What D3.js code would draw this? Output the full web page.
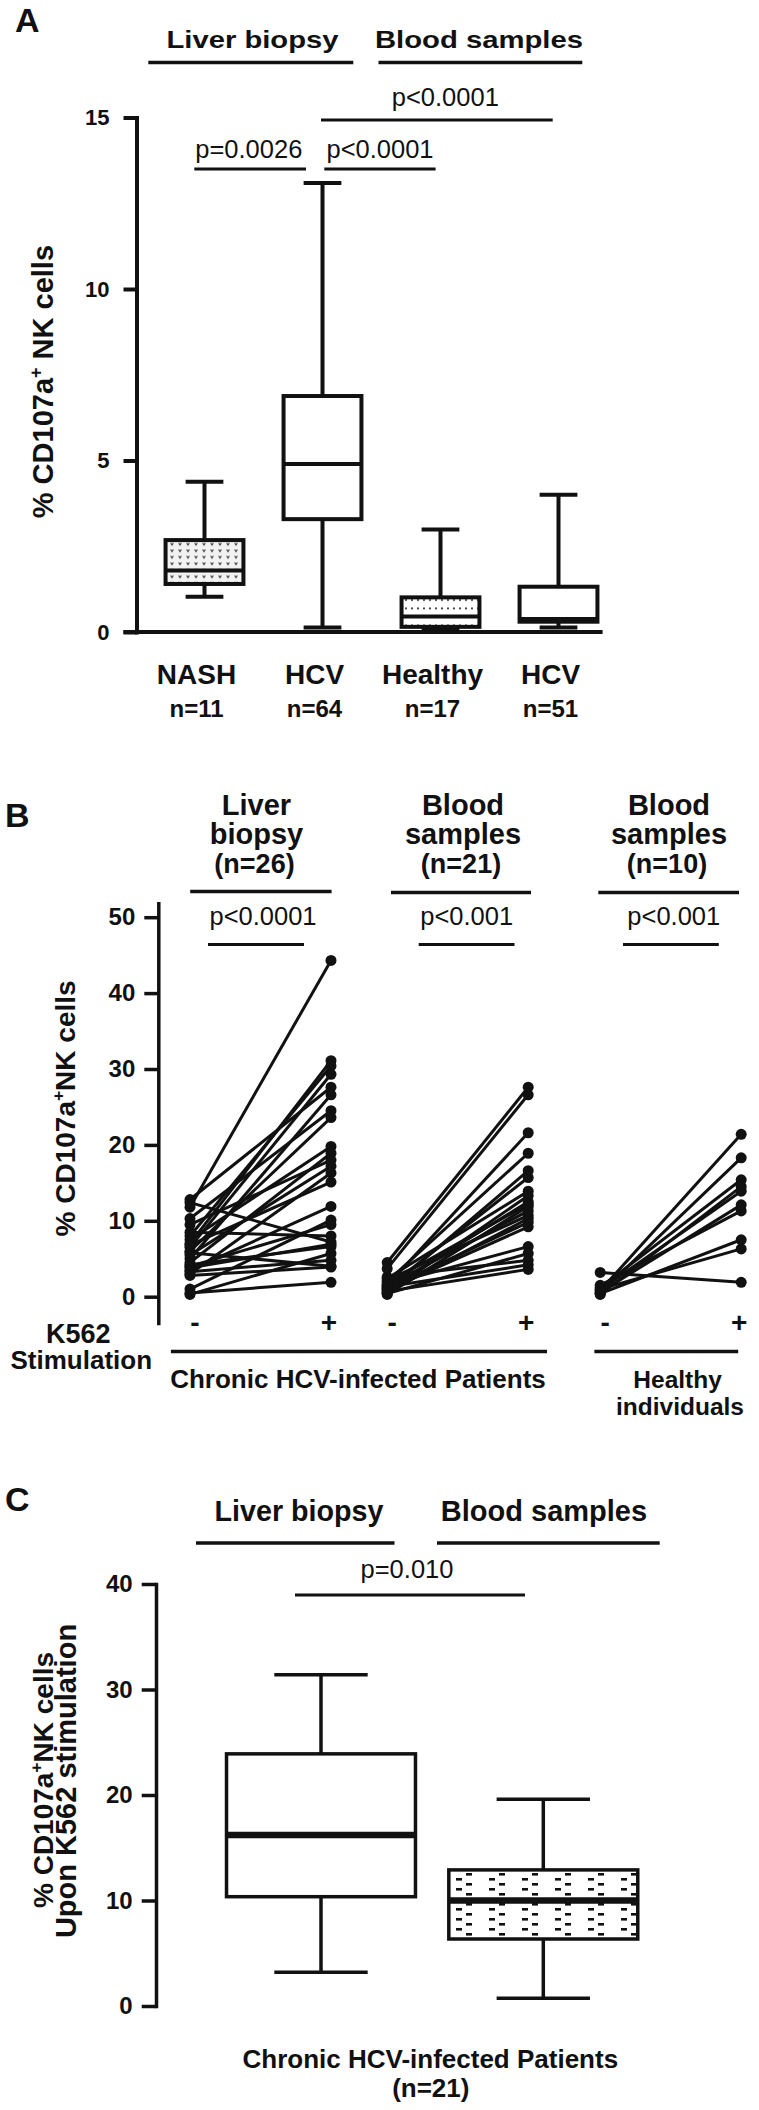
<!DOCTYPE html>
<html><head><meta charset="utf-8">
<script src="https://cdn.jsdelivr.net/npm/d3@7"></script>
<style>
body{margin:0;background:#fff}
svg{display:block}
text{font-family:"Liberation Sans",Arial,Helvetica,sans-serif;fill:#111}
</style>
</head><body><script>
// ================= DATA =================
// Panel A : box plots (% CD107a+ NK cells)
const catsA = ["NASH", "HCV", "Healthy", "HCV"];
const nLabelsA = ["n=11", "n=64", "n=17", "n=51"];
const minA = [1.03, 0.13, 0.10, 0.13];
const q1A  = [1.40, 3.29, 0.15, 0.30];
const medA = [1.79, 4.90, 0.45, 0.38];
const q3A  = [2.68, 6.88, 1.01, 1.32];
const maxA = [4.38, 13.09, 2.99, 4.00];
const ticksA = [0, 5, 10, 15];

// Panel B : paired values, before (-) and after (+) K562 stimulation
const groupsB = ["liver", "blood", "healthy"];
const liverBefore = [11.8, 7.0, 8.0, 6.5, 12.8, 5.0, 10.3, 6.0, 7.5, 4.5, 9.5, 5.5, 3.0, 6.8, 3.5, 1.0, 4.0, 12.4, 8.5, 4.2, 3.8, 0.3, 3.3, 2.8, 5.8, 0.5];
const liverAfter  = [44.3, 31.1, 30.4, 29.3, 27.6, 26.6, 24.5, 23.6, 19.8, 18.9, 18.0, 17.2, 16.3, 15.1, 11.9, 10.1, 9.5, 7.2, 8.0, 6.6, 6.9, 5.7, 4.8, 3.9, 4.0, 1.9];
const bloodBefore = [4.5, 3.7, 1.5, 2.0, 0.8, 1.2, 2.4, 0.5, 1.0, 1.8, 0.3, 1.4, 2.2, 0.6, 1.1, 0.9, 1.6, 0.4, 2.6, 1.3, 0.7];
const bloodAfter  = [27.6, 26.6, 21.6, 18.9, 16.6, 15.7, 13.9, 13.3, 12.5, 12.2, 11.9, 11.3, 10.7, 10.3, 9.8, 9.2, 6.6, 5.7, 4.8, 4.2, 3.6];
const healthyBefore = [3.2, 0.8, 0.5, 1.2, 0.3, 0.9, 0.6, 1.5, 0.4, 1.0];
const healthyAfter  = [1.9, 21.4, 18.3, 15.4, 14.5, 13.9, 12.1, 11.3, 7.5, 6.3];
const ticksB = [0, 10, 20, 30, 40, 50];
const signLabels = ["-", "+"];

// Panel C : box plots upon K562 stimulation
const catsC = ["Liver biopsy", "Blood samples"];
const minC = [3.2, 0.73];
const q1C  = [10.36, 6.35];
const medC = [16.2, 10.0];
const q3C  = [23.9, 12.9];
const maxC = [31.4, 19.6];
const ticksC = [0, 10, 20, 30, 40];

// ================= SETUP =================
const W = 759, H = 2110;
const svg = d3.select("body").append("svg").attr("width", W).attr("height", H);
svg.append("rect").attr("width", W).attr("height", H).attr("fill", "#fff");
const INK = "#111";

// patterns
const defs = svg.append("defs");
const pH = defs.append("pattern").attr("id", "hearts").attr("patternUnits", "userSpaceOnUse")
  .attr("width", 8).attr("height", 6.5).attr("x", 1).attr("y", 2);
pH.append("rect").attr("width", 8).attr("height", 6.5).attr("fill", "#f2f2f2");
pH.append("path").attr("d", "M1.6,1.4 L3,3.6 L4.4,1.4").attr("fill", "none").attr("stroke", "#444").attr("stroke-width", 1.2);
const pD = defs.append("pattern").attr("id", "dots").attr("patternUnits", "userSpaceOnUse")
  .attr("width", 6).attr("height", 8.5).attr("x", 1).attr("y", 2);
pD.append("rect").attr("width", 6).attr("height", 8.5).attr("fill", "#fff");
pD.append("circle").attr("cx", 3).attr("cy", 3).attr("r", 1.05).attr("fill", "#333");
const pK = defs.append("pattern").attr("id", "dashes").attr("patternUnits", "userSpaceOnUse")
  .attr("width", 33).attr("height", 10).attr("x", 456).attr("y", 1868);
pK.append("rect").attr("width", 33).attr("height", 10).attr("fill", "#fff");
pK.append("rect").attr("x", 0).attr("y", 0).attr("width", 6).attr("height", 2.6).attr("fill", "#111");
pK.append("rect").attr("x", 10).attr("y", 5).attr("width", 6).attr("height", 2.6).attr("fill", "#111");

function txt(x, y, s, size, weight, anchor) {
  return svg.append("text").attr("x", x).attr("y", y).text(s)
    .style("font-size", size + "px").style("font-weight", weight || "bold")
    .attr("text-anchor", anchor || "middle");
}
function hline(x1, x2, y, sw) {
  return svg.append("line").attr("x1", x1).attr("x2", x2).attr("y1", y).attr("y2", y)
    .attr("stroke", INK).attr("stroke-width", sw);
}
function yLabel(x, y, before, after, size) {
  const t = svg.append("text").attr("transform", `translate(${x},${y}) rotate(-90)`)
    .attr("text-anchor", "middle").style("font-size", size + "px").style("font-weight", "bold");
  t.append("tspan").text(before);
  t.append("tspan").attr("dy", -size * 0.38).style("font-size", (size * 0.62) + "px").text("+");
  t.append("tspan").attr("dy", size * 0.38).text(after);
  return t;
}
function styleAxis(g, sw, fs, keepDomain) {
  g.selectAll(".tick line").attr("stroke", INK).attr("stroke-width", sw);
  g.selectAll(".tick text").style("font-size", fs + "px").style("font-weight", "bold").attr("fill", INK)
    .style("font-family", '"Liberation Sans",Arial,sans-serif');
  if (keepDomain) g.select(".domain").attr("stroke", INK).attr("stroke-width", sw).attr("stroke-linecap", "square");
  else g.select(".domain").remove();
}
function drawBoxes(x, y, mins, q1s, meds, q3s, maxs, boxFrac, capFrac, sw, medSw, fills) {
  const g = svg.append("g");
  mins.forEach((_, i) => {
    const cx = x(i) + x.bandwidth() / 2;
    const bw = x.bandwidth() * boxFrac, cw = x.bandwidth() * capFrac;
    g.append("line").attr("x1", cx).attr("x2", cx).attr("y1", y(maxs[i])).attr("y2", y(mins[i]))
      .attr("stroke", INK).attr("stroke-width", sw);
    [mins[i], maxs[i]].forEach(v => g.append("line").attr("x1", cx - cw / 2).attr("x2", cx + cw / 2)
      .attr("y1", y(v)).attr("y2", y(v)).attr("stroke", INK).attr("stroke-width", sw));
    g.append("rect").attr("x", cx - bw / 2).attr("width", bw)
      .attr("y", y(q3s[i])).attr("height", y(q1s[i]) - y(q3s[i]))
      .attr("fill", fills[i]).attr("stroke", INK).attr("stroke-width", sw);
    g.append("line").attr("x1", cx - bw / 2).attr("x2", cx + bw / 2)
      .attr("y1", y(meds[i])).attr("y2", y(meds[i])).attr("stroke", INK).attr("stroke-width", medSw);
  });
}

// ================= PANEL A =================
txt(15, 32, "A", 34, "bold", "start");
const xA = d3.scaleBand().domain(d3.range(catsA.length)).range([145.5, 617.5]);
const yA = d3.scaleLinear().domain([0, 15]).range([632, 117.5]);
const axA = svg.append("g").attr("transform", "translate(136.5,0)")
  .call(d3.axisLeft(yA).tickValues(ticksA).tickSize(13).tickPadding(14).tickSizeOuter(0));
styleAxis(axA, 4, 22, true);
hline(123.4, 602.6, yA(0), 4);
drawBoxes(xA, yA, minA, q1A, medA, q3A, maxA, 0.66, 0.32, 4, 4,
  ["url(#hearts)", "#fff", "url(#dots)", "#fff"]);
catsA.forEach((c, i) => txt(xA(i) + xA.bandwidth() / 2 - 8, 684.3, c, 28));
nLabelsA.forEach((c, i) => txt(xA(i) + xA.bandwidth() / 2 - 8, 716.7, c, 24));
yLabel(53, 381.6, "% CD107a", " NK cells", 29);
// group headers
txt(252.5, 47.7, "Liver biopsy", 24).attr("textLength", 172).attr("lengthAdjust", "spacingAndGlyphs");
hline(148.3, 353.3, 62.5, 3.3);
txt(479, 47.7, "Blood samples", 24).attr("textLength", 208).attr("lengthAdjust", "spacingAndGlyphs");
hline(378.5, 582.3, 62.5, 3.3);
// significance
txt(445.3, 105.8, "p<0.0001", 25.5, "normal");
hline(321, 552.7, 120, 3);
txt(248.8, 158.3, "p=0.0026", 25.5, "normal");
hline(194.3, 306, 169, 3);
txt(380, 158.3, "p<0.0001", 25.5, "normal");
hline(324.3, 435.6, 169, 3);

// ================= PANEL B =================
txt(5, 827, "B", 34, "bold", "start");
const yB = d3.scaleLinear().domain([0, 50]).range([1296.7, 917.2]);
const gxB = d3.scaleOrdinal().domain(groupsB).range([190, 387.2, 600.2]);
const dxB = d3.scaleLinear().domain([0, 1]).range([0, 141]);
const axB = svg.append("g").attr("transform", "translate(158.8,0)")
  .call(d3.axisLeft(yB).tickValues(ticksB).tickSize(14.5).tickPadding(9).tickSizeOuter(0));
styleAxis(axB, 3.5, 24, false);
svg.append("line").attr("x1", 158.8).attr("x2", 158.8).attr("y1", yB(52)).attr("y2", yB(-3.75))
  .attr("stroke", INK).attr("stroke-width", 3.5);
const pairsB = [[liverBefore, liverAfter], [bloodBefore, bloodAfter], [healthyBefore, healthyAfter]];
const gB = svg.append("g");
pairsB.forEach(([bef, aft], gi) => {
  const gx = gxB(groupsB[gi]);
  bef.forEach((b, i) => {
    gB.append("line").attr("x1", gx + dxB(0)).attr("y1", yB(b)).attr("x2", gx + dxB(1)).attr("y2", yB(aft[i]))
      .attr("stroke", INK).attr("stroke-width", 3);
  });
});
pairsB.forEach(([bef, aft], gi) => {
  const gx = gxB(groupsB[gi]);
  bef.forEach((b, i) => {
    gB.append("circle").attr("cx", gx + dxB(0)).attr("cy", yB(b)).attr("r", 5.5).attr("fill", INK);
    gB.append("circle").attr("cx", gx + dxB(1)).attr("cy", yB(aft[i])).attr("r", 5.5).attr("fill", INK);
  });
  signLabels.forEach((s, k) => txt(gx + dxB(k) + (k === 0 ? 5 : -2), 1331.5, s, 28));
});
yLabel(75, 1108.4, "% CD107a", "NK cells", 28);
// headers
[["Liver", "biopsy", "(n=26)", 256.5], ["Blood", "samples", "(n=21)", 463], ["Blood", "samples", "(n=10)", 669]]
  .forEach(([a, b, c, cx]) => {
    txt(cx, 815.2, a, 29); txt(cx, 843.8, b, 29); txt(cx - 2, 873.2, c, 27);
  });
hline(190.2, 331.6, 891.5, 3.3);
hline(391, 531, 892.5, 3.3);
hline(598.3, 739, 892.5, 3.3);
txt(263, 925.4, "p<0.0001", 25.5, "normal");
hline(208, 304, 944.6, 3);
txt(466.7, 925.4, "p<0.001", 25.5, "normal");
hline(418.7, 514.5, 944.6, 3);
txt(673.8, 925.4, "p<0.001", 25.5, "normal");
hline(623, 718.8, 944.6, 3);
// bottom annotation
txt(78.3, 1343, "K562", 27);
txt(81.3, 1369, "Stimulation", 26);
hline(170.9, 547, 1351.5, 3.3);
hline(594.4, 738.2, 1351.5, 3.3);
txt(358, 1388.3, "Chronic HCV-infected Patients", 26);
txt(677.6, 1387.5, "Healthy", 24.5);
txt(680, 1414.5, "individuals", 24.5);

// ================= PANEL C =================
txt(5, 1511, "C", 34, "bold", "start");
const xC = d3.scaleBand().domain(d3.range(catsC.length)).range([209.85, 654.45]);
const yC = d3.scaleLinear().domain([0, 40]).range([2006, 1584]);
const axC = svg.append("g").attr("transform", "translate(156,0)")
  .call(d3.axisLeft(yC).tickValues(ticksC).tickSize(14.3).tickPadding(9).tickSizeOuter(0));
styleAxis(axC, 3.5, 24, true);
drawBoxes(xC, yC, minC, q1C, medC, q3C, maxC, 0.85, 0.42, 3.5, 6.5, ["#fff", "url(#dashes)"]);
txt(299, 1521.4, catsC[0], 29).attr("textLength", 169).attr("lengthAdjust", "spacingAndGlyphs");
hline(196, 394.5, 1543, 3.3);
txt(544, 1521.4, catsC[1], 29);
hline(437, 659.7, 1543, 3.3);
txt(407, 1578.3, "p=0.010", 25.5, "normal");
hline(295, 525, 1595, 3);
yLabel(53, 1780, "% CD107a", "NK cells", 28);
txt(0, 0, "Upon K562 stimulation", 29).attr("x", null).attr("y", null)
  .attr("transform", "translate(76,1781) rotate(-90)");
txt(430.3, 2068, "Chronic HCV-infected Patients", 26);
txt(430.8, 2097, "(n=21)", 26);
</script></body></html>
